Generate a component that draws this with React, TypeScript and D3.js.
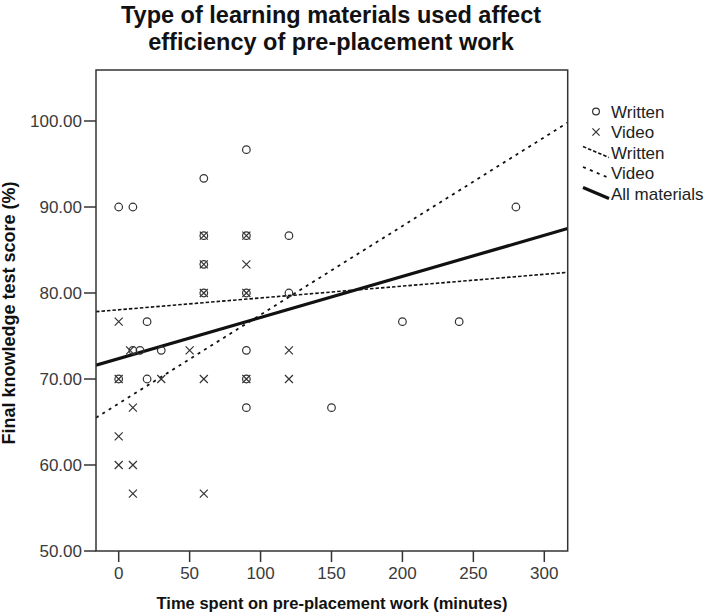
import React from "react";
import * as d3 from "d3";

// ---------- data ----------
const writtenPoints: [number, number][] = [
  [0, 90], [10, 90], [60, 93.33], [90, 96.67],
  [60, 86.67], [90, 86.67], [120, 86.67],
  [60, 83.33],
  [60, 80], [90, 80], [120, 80],
  [20, 76.67],
  [10, 73.33], [15, 73.33], [30, 73.33], [90, 73.33],
  [0, 70], [20, 70], [90, 70],
  [90, 66.67], [150, 66.67],
  [200, 76.67], [240, 76.67], [280, 90],
];

const videoPoints: [number, number][] = [
  [60, 86.67], [90, 86.67],
  [60, 83.33], [90, 83.33],
  [60, 80], [90, 80],
  [0, 76.67],
  [8, 73.33], [50, 73.33], [120, 73.33],
  [0, 70], [30, 70], [60, 70], [90, 70], [120, 70],
  [10, 66.67],
  [0, 63.33],
  [0, 60], [10, 60],
  [10, 56.67], [60, 56.67],
];

// fit lines: [intercept, slope]
const fitNames = ["Written", "Video", "All materials"];
const fitIntercepts = [78.05, 67.15, 72.37];
const fitSlopes = [0.01375, 0.1032, 0.0478];

const xTicks = [0, 50, 100, 150, 200, 250, 300];
const yTicks = [50, 60, 70, 80, 90, 100];
const xDomain: [number, number] = [-16, 316.5];
const yDomain: [number, number] = [50, 105.93];

const titleLines = ["Type of learning materials used affect", "efficiency of pre-placement work"];
const xTitle = "Time spent on pre-placement work (minutes)";
const yTitle = "Final knowledge test score (%)";
const legendLabels = ["Written", "Video", "Written", "Video", "All materials"];

// ---------- layout ----------
const W = 709, H = 614;
const L = 96, R = 567.7, T = 70, B = 551;
const INK = "#333";
const FONT = "'Liberation Sans', Arial, sans-serif";

const lineStyles = [
  { dash: "3.5,2", width: 1.6 },
  { dash: "3,4.5", width: 1.8 },
  { dash: "none", width: 3.2 },
];

function Circle({ x, y, r = 3.8 }: { x: number; y: number; r?: number }) {
  return <circle cx={x} cy={y} r={r} fill="none" stroke={INK} strokeWidth={1.2} />;
}
function Cross({ x, y, s = 4 }: { x: number; y: number; s?: number }) {
  return (
    <path
      d={`M${x - s},${y - s}L${x + s},${y + s}M${x - s},${y + s}L${x + s},${y - s}`}
      stroke={INK}
      strokeWidth={1.2}
      fill="none"
    />
  );
}

export default function App() {
  const x = d3.scaleLinear().domain(xDomain).range([L, R]);
  const y = d3.scaleLinear().domain(yDomain).range([B, T]);

  const legendX = 596;
  const legendTextX = 611;
  const legendY0 = 111.5;
  const legendDY = 20.5;

  return (
    <svg
      width={W}
      height={H}
      style={{ position: "absolute", left: 0, top: 0, background: "#fff" }}
      fontFamily={FONT}
    >
      <rect x={0} y={0} width={W} height={H} fill="#fff" />
      {/* title */}
      {titleLines.map((t, i) => (
        <text key={i} x={331} y={23 + i * 27} textAnchor="middle" fontSize={23.5} fontWeight="bold" fill="#111">
          {t}
        </text>
      ))}

      {/* fit lines, clipped */}
      <defs>
        <clipPath id="plotclip">
          <rect x={L} y={T} width={R - L} height={B - T} />
        </clipPath>
      </defs>
      <g clipPath="url(#plotclip)">
        {fitIntercepts.map((b, i) => {
          const line = d3
            .line<number>()
            .x((d) => x(d))
            .y((d) => y(b + fitSlopes[i] * d));
          return (
            <path
              key={i}
              d={line(xDomain as number[]) || ""}
              stroke="#111"
              strokeWidth={lineStyles[i].width}
              strokeDasharray={lineStyles[i].dash}
              fill="none"
            />
          );
        })}
        {writtenPoints.map((p, i) => (
          <Circle key={"w" + i} x={x(p[0])} y={y(p[1])} />
        ))}
        {videoPoints.map((p, i) => (
          <Cross key={"v" + i} x={x(p[0])} y={y(p[1])} />
        ))}
      </g>

      {/* frame */}
      <rect x={L} y={T} width={R - L} height={B - T} fill="none" stroke={INK} strokeWidth={1.5} />

      {/* y axis ticks */}
      {yTicks.map((t) => (
        <g key={t}>
          <line x1={L - 12} x2={L} y1={y(t)} y2={y(t)} stroke={INK} strokeWidth={1.5} />
          <text x={L - 14} y={y(t)} dy="0.36em" textAnchor="end" fontSize={17} fill="#3a3a3a">
            {t.toFixed(2)}
          </text>
        </g>
      ))}
      {/* x axis ticks */}
      {xTicks.map((t) => (
        <g key={t}>
          <line x1={x(t)} x2={x(t)} y1={B} y2={B + 11} stroke={INK} strokeWidth={1.5} />
          <text x={x(t)} y={579} textAnchor="middle" fontSize={17} fill="#3a3a3a">
            {t}
          </text>
        </g>
      ))}

      {/* axis titles */}
      <text x={332} y={609} textAnchor="middle" fontSize={16.5} fontWeight="bold" fill="#111">
        {xTitle}
      </text>
      <text
        transform={`translate(15,313) rotate(-90)`}
        textAnchor="middle"
        fontSize={18}
        fontWeight="bold"
        fill="#111"
      >
        {yTitle}
      </text>

      {/* legend */}
      <Circle x={legendX} y={legendY0} r={3.4} />
      <Cross x={legendX} y={legendY0 + legendDY} s={3.6} />
      {[0, 1, 2].map((i) => (
        <line
          key={i}
          x1={583}
          y1={legendY0 + (i + 2) * legendDY - 6}
          x2={609}
          y2={legendY0 + (i + 2) * legendDY + 5}
          stroke="#111"
          strokeWidth={lineStyles[i].width}
          strokeDasharray={lineStyles[i].dash}
        />
      ))}
      {legendLabels.map((l, i) => (
        <text key={i} x={legendTextX} y={legendY0 + i * legendDY} dy="0.36em" fontSize={17} fill="#222">
          {l}
        </text>
      ))}
    </svg>
  );
}
